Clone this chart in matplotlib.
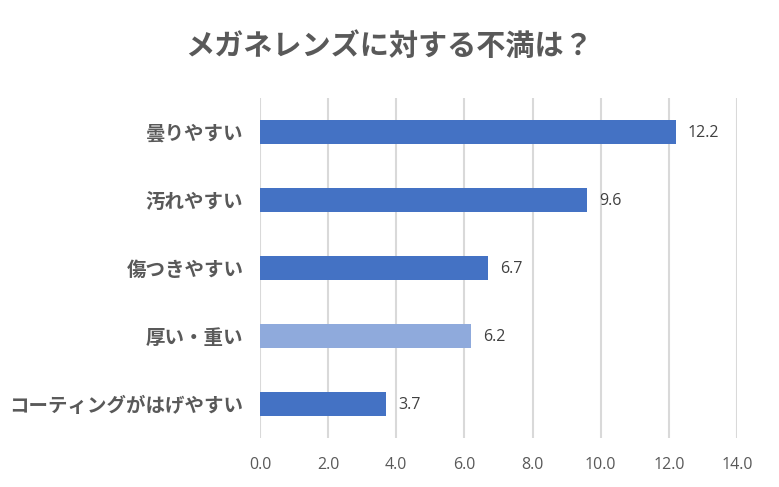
import numpy as np
import matplotlib.pyplot as plt

plt.rcParams['font.family'] = ['Noto Sans CJK JP', 'DejaVu Sans']

categories = ['曇りやすい', '汚れやすい', '傷つきやすい', '厚い・重い', 'コーティングがはげやすい']
values = [12.2, 9.6, 6.7, 6.2, 3.7]
colors = ['#4472C4', '#4472C4', '#4472C4', '#8FAADC', '#4472C4']
xticks = [0, 2, 4, 6, 8, 10, 12, 14]

num_font = ['Open Sans', 'DejaVu Sans']

fig = plt.figure(figsize=(7.79, 4.87), dpi=100)
ax = fig.add_axes([0.3338, 0.1006, 0.6122, 0.6982])

y = np.arange(len(categories))
ax.barh(y, values, height=0.35, color=colors, zorder=3)
for yi, v in zip(y, values):
    ax.text(v + 0.35, yi + 0.02, f'{v:.1f}', va='center', ha='left', fontsize=11.5,
            color='#404040', family=num_font)

ax.set_ylim(len(categories) - 0.5, -0.5)
ax.set_xlim(0, 14)
ax.set_yticks(y)
ax.set_yticklabels(categories, fontsize=14, fontweight='bold', color='#595959')
ax.set_xticks(xticks)
ax.set_xticklabels([f'{t:.1f}' for t in xticks], fontsize=11.5, color='#595959',
                   family=num_font)
ax.tick_params(length=0)
ax.tick_params(axis='y', pad=12)
ax.tick_params(axis='x', pad=14)
ax.grid(axis='x', color='#D9D9D9', lw=1.5, zorder=0)
for s in ax.spines.values():
    s.set_visible(False)

fig.text(0.5, 0.905, 'メガネレンズに対する不満は？', ha='center', va='center',
         fontsize=21, fontweight='bold', color='#595959')

fig.savefig('out.png', dpi=100)
